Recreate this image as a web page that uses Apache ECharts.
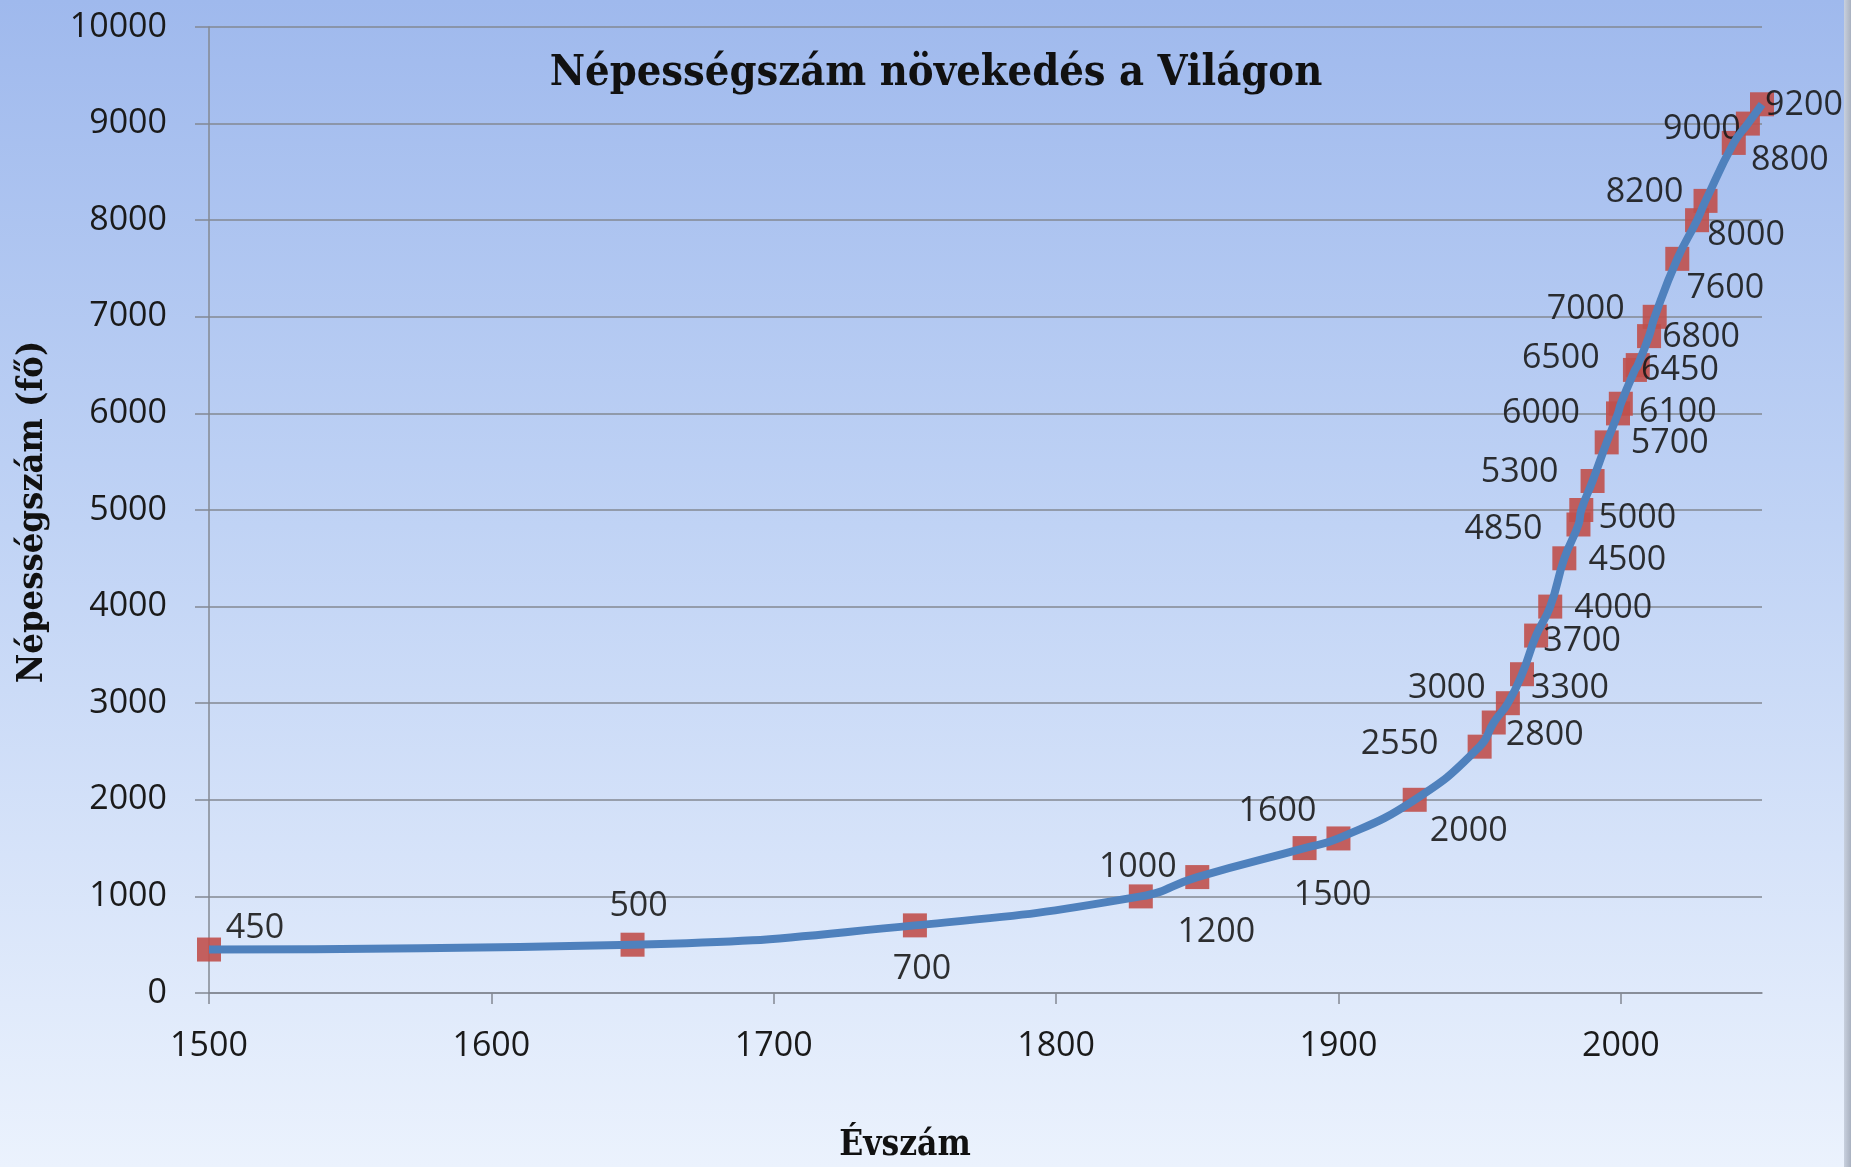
<!DOCTYPE html>
<html>
<head>
<meta charset="utf-8">
<title>Népességszám növekedés a Világon</title>
<script src="https://cdn.jsdelivr.net/npm/echarts@6/dist/echarts.min.js"></script>
<style>
  html, body { margin: 0; padding: 0; background: #fff; }
  #wrap { position: relative; width: 1851px; height: 1167px; }
  #main { width: 1851px; height: 1167px; }
  #edge { position: absolute; right: 0; top: 0; width: 7px; height: 1167px;
          background: linear-gradient(to right, #c8d0de, #a9b1c0); }
</style>
</head>
<body>
<div id="wrap">
  <div id="main"></div>
  <div id="edge"></div>
</div>
<script>
// évszámok és népesség (millió fő)
var years = [1500, 1650, 1750, 1830, 1850, 1888, 1900, 1927, 1950, 1955, 1960,
  1965, 1970, 1975, 1980, 1985, 1986, 1990, 1995, 1999, 2000, 2005, 2006,
  2010, 2012, 2020, 2027, 2030, 2040, 2045, 2050];
var population = [450, 500, 700, 1000, 1200, 1500, 1600, 2000, 2550, 2800, 3000,
  3300, 3700, 4000, 4500, 4850, 5000, 5300, 5700, 6000, 6100, 6450, 6500,
  6800, 7000, 7600, 8000, 8200, 8800, 9000, 9200];
var xTicks = [1500, 1600, 1700, 1800, 1900, 2000];
var yTicks = [0, 1000, 2000, 3000, 4000, 5000, 6000, 7000, 8000, 9000, 10000];

// címkék eltolása a pontokhoz képest (px)
var labelShift = [
  [46, -21], [6, -38], [7, 44], [-3, -29], [19, 55], [28, 47], [-61, -27],
  [54, 32], [-80, -2], [51, 13], [-61, -15], [48, 14], [46, 6], [63, 2],
  [63, 2], [-75, 5], [56, 8], [-73, -9], [63, 1], [-77, 0], [57, 9],
  [45, 0], [-77, -7], [52, 1], [-69, -7], [48, 29], [49, 15], [-61, -9],
  [56, 17], [-46, 6], [42, 1]
];

var points = years.map(function (y, i) {
  return {
    value: [y, population[i]],
    label: { offset: labelShift[i] }
  };
});
var lineData = years.map(function (y, i) { return [y, population[i]]; });

var font = '"Open Sans", "Liberation Sans", sans-serif';
var serif = '"DejaVu Serif Condensed", "DejaVu Serif", serif';
var gridColor = '#838892';
var plain = function (v) { return String(v); };

var chart = echarts.init(document.getElementById('main'));
chart.setOption({
  animation: false,
  backgroundColor: new echarts.graphic.LinearGradient(0, 0, 0, 1, [
    { offset: 0, color: '#9fb9ed' },
    { offset: 0.45, color: '#c0d3f5' },
    { offset: 1, color: '#ebf2fd' }
  ]),
  textStyle: { fontFamily: font },
  grid: { left: 209, right: 89, top: 27, bottom: 174 },
  graphic: [
    {
      type: 'text', x: 936, y: 74, z: 100,
      style: {
        text: 'Népességszám növekedés a Világon', fill: '#111',
        font: 'bold 43px ' + serif, textAlign: 'center', textVerticalAlign: 'middle'
      }
    },
    {
      type: 'text', x: 33, y: 512, rotation: Math.PI / 2, z: 100,
      style: {
        text: 'Népességszám (fő)', fill: '#111',
        font: 'bold 36px ' + serif, textAlign: 'center', textVerticalAlign: 'middle'
      }
    },
    {
      type: 'text', x: 905, y: 1146, z: 100,
      style: {
        text: 'Évszám', fill: '#111',
        font: 'bold 35px ' + serif, textAlign: 'center', textVerticalAlign: 'middle'
      }
    }
  ],
  xAxis: {
    type: 'value', min: 1500, max: 2050, interval: 100,
    axisLine: { show: true, onZero: false, lineStyle: { color: gridColor, width: 1.5 } },
    axisTick: { show: true, length: 11, customValues: xTicks, lineStyle: { color: gridColor, width: 1.5 } },
    axisLabel: { customValues: xTicks, formatter: plain, margin: 36, fontSize: 34, color: '#1a1a1a' },
    splitLine: { show: false }
  },
  yAxis: {
    type: 'value', min: 0, max: 10000, interval: 1000,
    axisLine: { show: true, lineStyle: { color: gridColor, width: 1.5 } },
    axisTick: { show: true, length: 14, customValues: yTicks, lineStyle: { color: gridColor, width: 1.5 } },
    axisLabel: { customValues: yTicks, formatter: plain, margin: 42, fontSize: 34, color: '#1a1a1a' },
    splitLine: { show: true, lineStyle: { color: gridColor, width: 1.5 } }
  },
  series: [
    {
      // jelölők és címkék
      type: 'line',
      data: points,
      symbol: 'rect',
      symbolSize: 24,
      itemStyle: { color: '#c0504d', opacity: 0.9 },
      lineStyle: { opacity: 0 },
      z: 2,
      label: {
        show: true, position: 'inside',
        formatter: function (p) { return p.value[1]; },
        fontSize: 34, color: '#1a1a1a', fontFamily: font
      }
    },
    {
      // görbe a jelölők fölött
      type: 'line',
      data: lineData,
      showSymbol: false,
      smooth: 0.5,
      lineStyle: { color: '#4f81bd', width: 8 },
      z: 3,
      silent: true
    }
  ]
});
</script>
</body>
</html>
